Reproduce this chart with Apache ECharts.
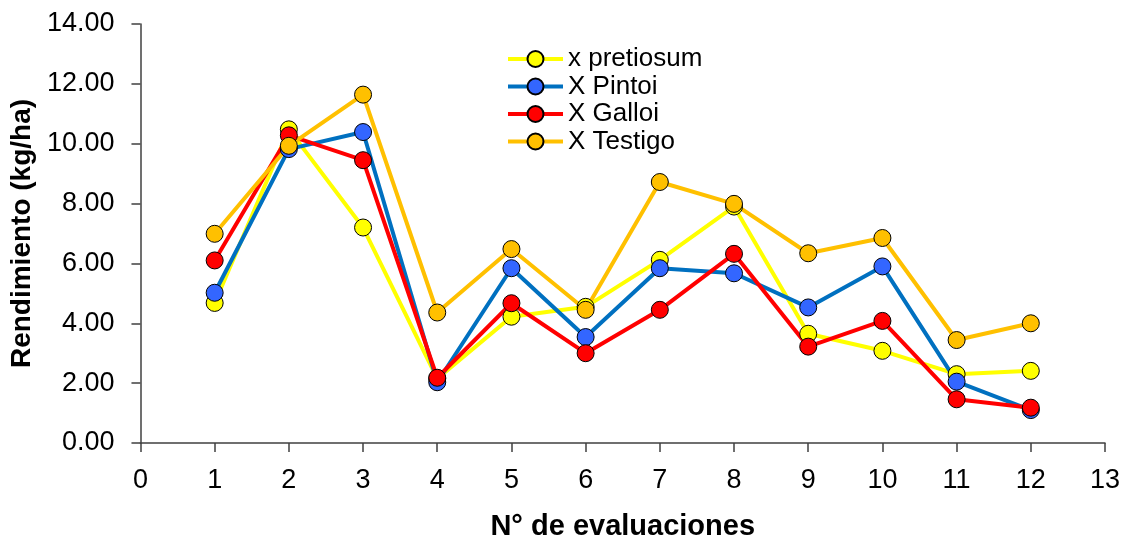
<!DOCTYPE html>
<html>
<head>
<meta charset="utf-8">
<script src="https://cdn.jsdelivr.net/npm/echarts@6/dist/echarts.min.js"></script>
<style>
html,body{margin:0;padding:0;background:#fff;}
#chart{width:1130px;height:546px;}
</style>
</head>
<body>
<div id="chart"></div>
<script>
// N° de evaluacion
var evaluaciones = [1, 2, 3, 4, 5, 6, 7, 8, 9, 10, 11, 12];
// rendimiento (kg/ha) por tratamiento
var pretiosum = [4.68, 10.48, 7.20, 2.15, 4.22, 4.55, 6.12, 7.90, 3.65, 3.08, 2.30, 2.41];
var pintoi    = [5.02, 9.82, 10.39, 2.03, 5.84, 3.54, 5.84, 5.67, 4.53, 5.90, 2.05, 1.10];
var galloi    = [6.10, 10.28, 9.45, 2.18, 4.67, 3.00, 4.45, 6.32, 3.22, 4.08, 1.46, 1.18];
var testigo   = [6.99, 9.93, 11.64, 4.36, 6.48, 4.45, 8.72, 7.99, 6.34, 6.85, 3.44, 4.00];

var nombres = ['x pretiosum', 'X Pintoi', 'X Galloi', 'X Testigo'];

function pares(vals) {
	return evaluaciones.map(function (x, i) { return [x, vals[i]]; });
}

function serie(nombre, vals, linea, relleno) {
	return {
		name: nombre,
		type: 'line',
		data: pares(vals),
		symbol: 'circle',
		symbolSize: 17,
		lineStyle: { color: linea, width: 4 },
		itemStyle: { color: relleno, borderColor: '#000', borderWidth: 1 },
		emphasis: { disabled: true },
		animation: false
	};
}

var myChart = echarts.init(document.getElementById('chart'));
var ejeColor = '#404040';
var option = {
	textStyle: { fontFamily: 'Liberation Sans, Arial, sans-serif' },
	grid: { left: 138, right: 25, top: 24, bottom: 103, containLabel: false },
	legend: {
		orient: 'vertical',
		left: 501,
		top: 41,
		itemWidth: 55,
		itemHeight: 20,
		itemGap: 1.5,
		data: nombres,
		lineStyle: { width: 4 },
		textStyle: { fontSize: 26, color: '#000' }
	},
	xAxis: {
		type: 'value',
		min: 0,
		max: 13,
		interval: 1,
		name: 'N° de evaluaciones',
		nameLocation: 'middle',
		nameGap: 69,
		nameTextStyle: { fontSize: 29, fontWeight: 'bold', color: '#000' },
		axisLine: { lineStyle: { color: ejeColor, width: 1.5 } },
		axisTick: { show: true, inside: false, length: 9, lineStyle: { color: ejeColor, width: 1.5 } },
		axisLabel: { fontSize: 27, color: '#000', margin: 24 },
		splitLine: { show: false }
	},
	yAxis: {
		type: 'value',
		min: 0,
		max: 14,
		interval: 2,
		name: 'Rendimiento (kg/ha)',
		nameLocation: 'middle',
		nameGap: 96,
		nameTextStyle: { fontSize: 28, fontWeight: 'bold', color: '#000' },
		axisLine: { show: true, lineStyle: { color: ejeColor, width: 1.5 } },
		axisTick: { show: true, inside: false, length: 9, lineStyle: { color: ejeColor, width: 1.5 } },
		axisLabel: {
			fontSize: 27,
			color: '#000',
			margin: 26,
			formatter: function (v) { return v.toFixed(2); }
		},
		splitLine: { show: false }
	},
	series: [
		serie(nombres[0], pretiosum, '#FFFF00', '#FFFF00'),
		serie(nombres[1], pintoi, '#0070C0', '#3366FF'),
		serie(nombres[2], galloi, '#FF0000', '#FF0000'),
		serie(nombres[3], testigo, '#FFC000', '#FFC000')
	]
};
myChart.setOption(option);
window.addEventListener('resize', function () {
	myChart.resize();
});
</script>
</body>
</html>
